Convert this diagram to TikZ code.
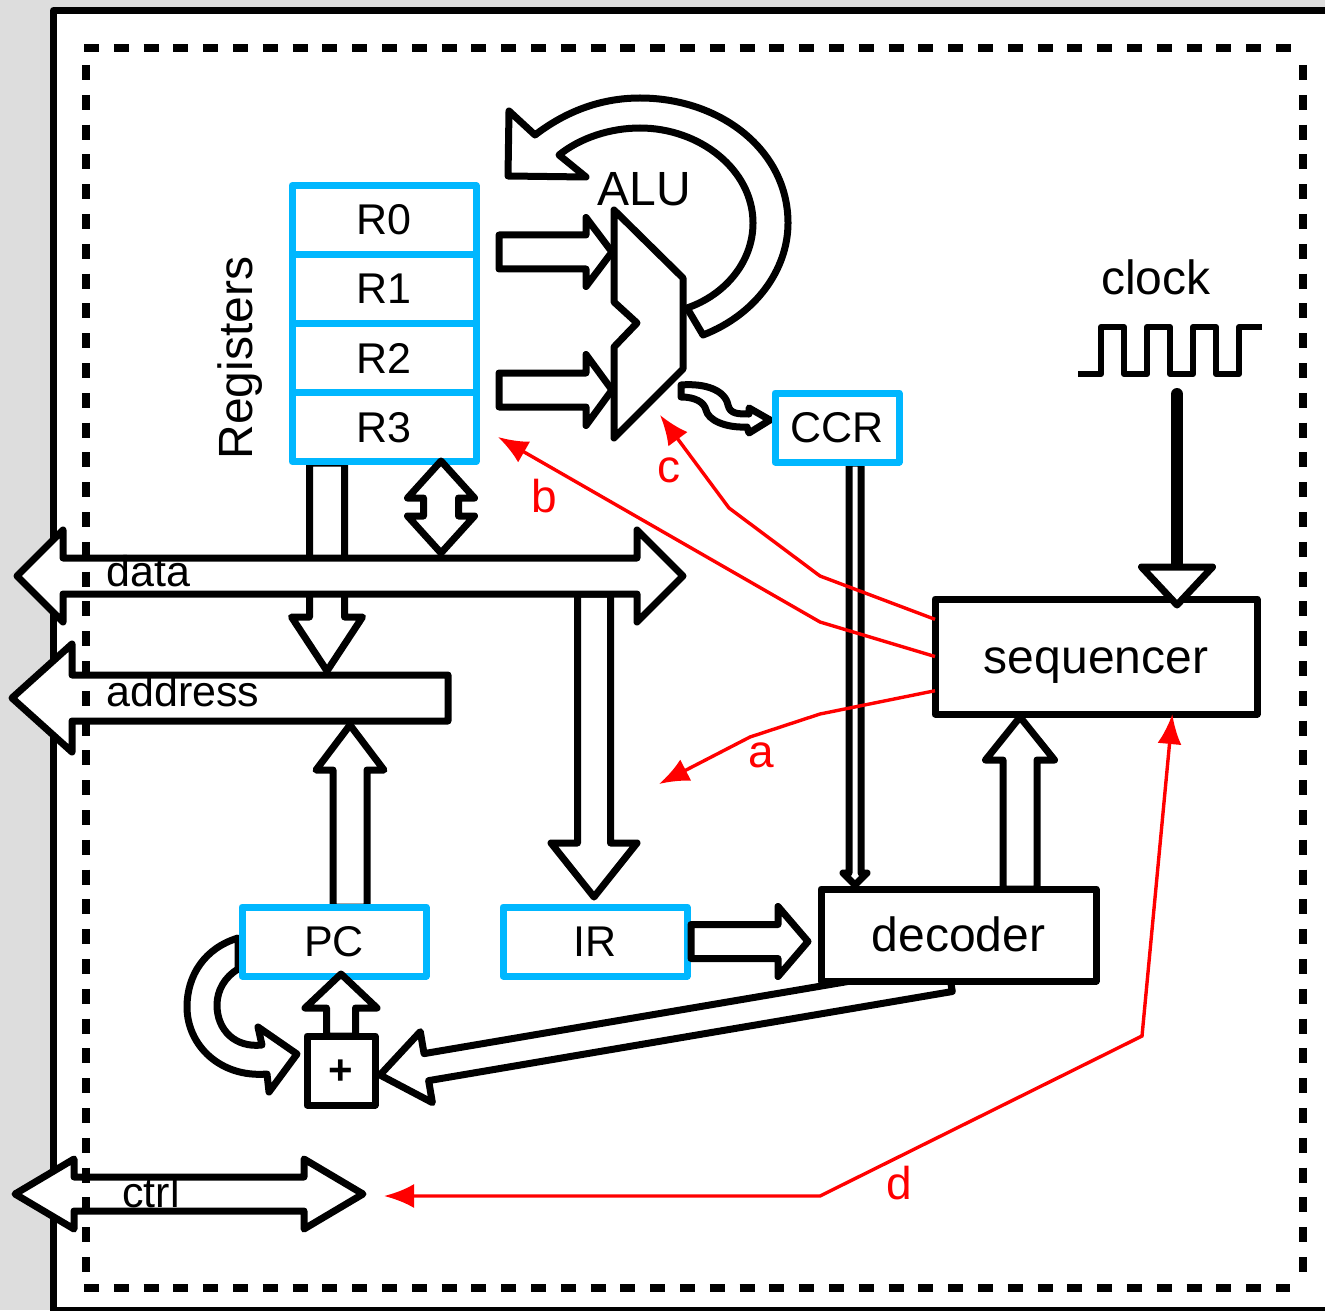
\documentclass[tikz,border=0pt]{standalone}
\usepackage{fontspec}
\setmainfont{Liberation Sans}
\usetikzlibrary{positioning,arrows.meta,calc}
\definecolor{framegrey}{HTML}{DDDDDD}
\definecolor{regblue}{HTML}{00B7FF}
\tikzset{
  busline/.style={draw=black, fill=white, line width=3.5pt, line join=round},
  busarrow/.style n args={3}{busline, to path={
    ($(\tikztostart)!#1!90:(\tikztotarget)$) -- ($(\tikztotarget)!#3!(\tikztostart)!#1!-90:(\tikztostart)$) -- ($(\tikztotarget)!#3!(\tikztostart)!#2!-90:(\tikztostart)$) -- (\tikztotarget) -- ($(\tikztotarget)!#3!(\tikztostart)!#2!90:(\tikztostart)$) -- ($(\tikztotarget)!#3!(\tikztostart)!#1!90:(\tikztostart)$) -- ($(\tikztostart)!#1!-90:(\tikztotarget)$) -- cycle}},
  busdouble/.style n args={3}{busline, to path={
    (\tikztostart) -- ($(\tikztostart)!#3!(\tikztotarget)!#2!90:(\tikztotarget)$) -- ($(\tikztostart)!#3!(\tikztotarget)!#1!90:(\tikztotarget)$) -- ($(\tikztotarget)!#3!(\tikztostart)!#1!-90:(\tikztostart)$) -- ($(\tikztotarget)!#3!(\tikztostart)!#2!-90:(\tikztostart)$) -- (\tikztotarget) -- ($(\tikztotarget)!#3!(\tikztostart)!#2!90:(\tikztostart)$) -- ($(\tikztotarget)!#3!(\tikztostart)!#1!90:(\tikztostart)$) -- ($(\tikztostart)!#3!(\tikztotarget)!#1!-90:(\tikztotarget)$) -- ($(\tikztostart)!#3!(\tikztotarget)!#2!-90:(\tikztotarget)$) -- cycle}},
  regbox/.style={draw=regblue, fill=white, line width=3.5pt, line join=round, inner sep=0pt, outer sep=0pt, minimum width=92pt, minimum height=34.5pt, text height=15pt, text depth=0pt, font=\fontsize{21.5}{21.5}\selectfont},
  ctrlbox/.style={draw=black, fill=white, line width=3.5pt, line join=round, inner sep=0pt, outer sep=0pt, text height=16.5pt, text depth=0pt, font=\fontsize{24}{24}\selectfont},
  bigtxt/.style={inner sep=0pt, font=\fontsize{24}{24}\selectfont},
  bustxt/.style={inner sep=0pt, anchor=base west, font=\fontsize{21.5}{21.5}\selectfont},
  redtxt/.style={inner sep=0pt, anchor=base, text=red, font=\fontsize{23}{23}\selectfont},
  redline/.style={draw=red, line width=1.7pt},
  redtip/.style={-{Latex[length=15pt,width=12pt]}}
}
\begin{document}
\begin{tikzpicture}[x=0.5pt, y=-0.5pt]
\useasboundingbox (0,0) rectangle (1325,1310);
\fill[framegrey] (0,0) rectangle (1325,1310);
\draw[draw=black, fill=white, line width=3.5pt, line join=round] (53.5,10.5) rectangle (1345,1310.5);

\coordinate (regouta) at (499,252);
\coordinate (regoutb) at (499,390);
\coordinate (aluina) at (612,252);
\coordinate (aluinb) at (612,390);
\coordinate (aluloopa) at (703,335);
\coordinate (aluloopb) at (687,308);
\coordinate (aluccra) at (681,385);
\coordinate (aluccrb) at (681,397);
\coordinate (regtoaddr) at (327,463);
\coordinate (addrfromreg) at (327,671);
\coordinate (regtodata) at (441,461);
\coordinate (datafromreg) at (441,553);
\coordinate (datatoir) at (594,594);
\coordinate (irfromdata) at (594,897);
\coordinate (pctoaddr) at (350,907);
\coordinate (addrfrompc) at (350,725);
\coordinate (ccrtodec) at (855,463);
\coordinate (decfromccr) at (855,885);
\coordinate (dectoseq) at (1020,889);
\coordinate (seqfromdec) at (1020,717);
\coordinate (irtodec) at (808,941.5);
\coordinate (dectoadd) at (950,978);
\coordinate (addfromdec) at (380,1075);
\coordinate (pctoadda) at (238,938);
\coordinate (pctoaddb) at (238,969);
\coordinate (addtopc) at (341,1036);
\coordinate (pcfromadd) at (341,974);
\coordinate (datal) at (17,576);
\coordinate (datar) at (683,576);
\coordinate (addrr) at (448,698);
\coordinate (addrl) at (12,698);
\coordinate (ctrll) at (15,1194);
\coordinate (ctrlr) at (363,1194);
\coordinate (clockout) at (1177,394);
\coordinate (clockend) at (1177,563);
\coordinate (seqtopa) at (1177,556);
\coordinate (seqtopb) at (1177,605);
\coordinate (tipa) at (659,784);
\coordinate (benda) at (820,714);
\coordinate (bendaa) at (750,737);
\coordinate (tipb) at (498,437);
\coordinate (bendb) at (820,622);
\coordinate (tipc) at (660,415);
\coordinate (bendc) at (820,576);
\coordinate (bendcc) at (729,508);
\coordinate (tipd) at (384,1196);
\coordinate (bendd) at (820,1196);
\coordinate (benddd) at (1142,1036);

\draw[busarrow={8.75pt}{17.75pt}{27pt}] (regtoaddr) to (addrfromreg);
\draw[busarrow={8.25pt}{21.5pt}{27pt}] (datatoir) to (irfromdata);
\draw[busarrow={8.5pt}{17pt}{22.5pt}] (pctoaddr) to (addrfrompc);
\draw[busarrow={3pt}{6pt}{6pt}] (ccrtodec) to (decfromccr);
\draw[busarrow={8.5pt}{17.25pt}{21.5pt}] (dectoseq) to (seqfromdec);
\draw[busarrow={6.85pt}{18pt}{23.5pt}] (dectoadd) to (addfromdec);
\draw[busarrow={8.5pt}{17.25pt}{13pt}] (regouta) to (aluina);
\draw[busarrow={8.5pt}{17.75pt}{13pt}] (regoutb) to (aluinb);
\draw[busline] (aluloopa) .. controls (755,315) and (788,270) .. (788,223) .. controls (788,150) and (720,98) .. (640,98) .. controls (600,98) and (565,112) .. (535,135) -- (509,111) -- (508,176) -- (586,177) -- (559,155) .. controls (580,138) and (610,128) .. (640,128) .. controls (700,128) and (753,170) .. (753,223) .. controls (753,262) and (725,295) .. (aluloopb) -- cycle;
\draw[busline] (aluccra) .. controls (705,383) and (725,390) .. (728,405) .. controls (730,414) and (738,414) .. (749,414) -- (749,408) -- (770,420) -- (749,433) -- (747,427) .. controls (725,428) and (708,420) .. (706,410) .. controls (704,402) and (695,397) .. (aluccrb) -- cycle;
\draw[busline] (pctoadda) .. controls (205,948) and (187,975) .. (187,1007) .. controls (187,1045) and (220,1078) .. (267,1074) -- (269,1092) -- (297,1054) -- (258,1027) -- (262,1045) .. controls (235,1048) and (217,1030) .. (217,1005) .. controls (217,990) and (225,977) .. (pctoaddb) -- cycle;
\draw[busdouble={9pt}{23pt}{23pt}] (datal) to (datar);
\draw[busarrow={11.5pt}{27pt}{30pt}] (addrr) to (addrl);
\draw[busdouble={8.5pt}{17.5pt}{29.5pt}] (ctrll) to (ctrlr);
\draw[busline] (614,210) -- (683,278) -- (683,369) -- (614,438) -- (614,347) -- (637,323) -- (614,302) -- cycle;

\node[regbox] (r0) at (384,220) {R0};
\node[regbox, below=0pt of r0] (r1) {R1};
\node[regbox, below=0pt of r1] (r2) {R2};
\node[regbox, below=0pt of r2] (r3) {R3};
\node[regbox, minimum width=62pt] (ccr) at (837,427.5) {CCR};
\node[regbox] (pc) at (334,941.5) {PC};
\node[regbox, right=38.5pt of pc] (ir) {IR};
\node[ctrlbox, minimum width=161pt, minimum height=57.5pt] (sequencer) at (1096,656.5) {sequencer};
\node[ctrlbox, minimum width=137.5pt, minimum height=46pt] (decoder) at (958.5,935) {decoder};
\node[ctrlbox, minimum width=34pt, minimum height=34.5pt, text height=14pt, font=\fontsize{21}{21}\selectfont\bfseries] (adder) at (341,1070.5) {+};

\draw[busdouble={8.75pt}{16.75pt}{18.5pt}] (regtodata) to (datafromreg);
\draw[busarrow={8.5pt}{17.5pt}{15pt}] ($(ir.east)+(4,0)$) to (irtodec);
\draw[busarrow={7.25pt}{18pt}{17pt}] (addtopc) to (pcfromadd);
\draw[busarrow={0pt}{17.75pt}{19pt}] (seqtopa) to (seqtopb);
\draw[line width=6pt, line cap=round] (clockout) -- (clockend);
\draw[line width=3pt, line join=round] (1078,374) -- (1101,374) -- (1101,327) -- (1124,327) -- (1124,374) -- (1147,374) -- (1147,327) -- (1170,327) -- (1170,374) -- (1193,374) -- (1193,327) -- (1216,327) -- (1216,374) -- (1239,374) -- (1239,327) -- (1262,327);
\draw[line width=4pt, dash pattern=on 7.5pt off 7.4pt] (84,48) -- (1300,48) (84,1288) -- (1290,1288) (86,65) -- (86,1275) (1303,65) -- (1303,1286);

\node[bigtxt, anchor=base] (alulabel) at (644,206) {ALU};
\node[bigtxt, anchor=base, rotate=90] (reglabel) at (252,358) {Registers};
\node[bigtxt, anchor=base] (clocklabel) at (1156,294) {clock};
\node[bustxt] (datalabel) at (106,586) {data};
\node[bustxt] (addrlabel) at (106,706) {address};
\node[bustxt] (ctrllabel) at (122,1207) {ctrl};

\draw[redline, redtip] (sequencer.192.4) -- (benda) -- (bendaa) -- (tipa);
\draw[redline, redtip] (sequencer.180.9) -- (bendb) -- (tipb);
\draw[redline, redtip] (sequencer.167.9) -- (bendc) -- (bendcc) -- (tipc);
\draw[redline, {Latex[length=15pt,width=12pt]}-{Latex[length=15pt,width=12pt]}] (tipd) -- (bendd) -- (benddd) -- (sequencer.323.25);
\node[redtxt] (laba) at (761,767) {a};
\node[redtxt] (labb) at (544,512) {b};
\node[redtxt] (labc) at (669,482) {c};
\node[redtxt] (labd) at (899,1199) {d};
\end{tikzpicture}
\end{document}
